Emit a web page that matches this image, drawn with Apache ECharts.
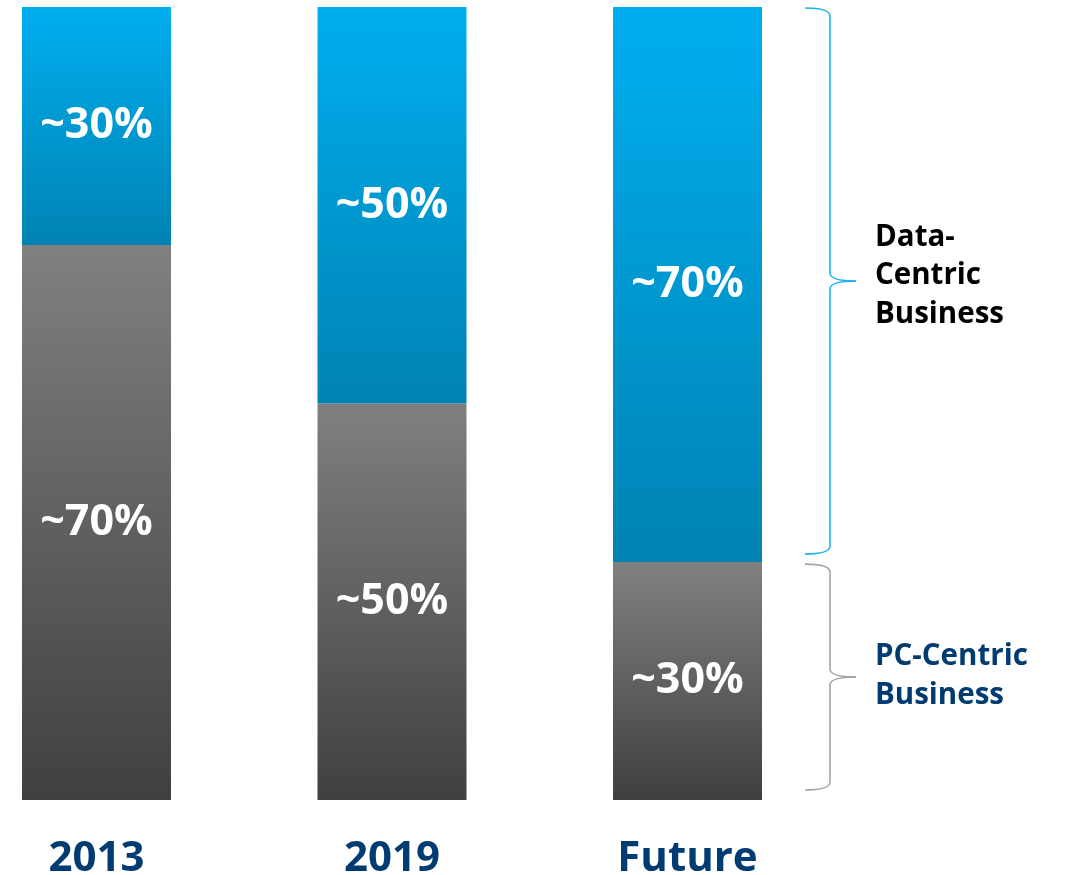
<!DOCTYPE html>
<html>
<head>
<meta charset="utf-8" />
<title>Data-Centric vs PC-Centric</title>
<script src="https://cdn.jsdelivr.net/npm/echarts@6/dist/echarts.min.js"></script>
<style>
  html, body { margin: 0; padding: 0; background: #fff; }
  #main { width: 1066px; height: 875px; }
</style>
</head>
<body>
<div id="main"></div>
<script>
// data
var years = ['2013', '2019', 'Future'];
var pcShare = [70, 50, 30];
var dataShare = [30, 50, 70];
var braceTexts = ['Data-\nCentric\nBusiness', 'PC-Centric\nBusiness'];

var navy = '#003C71';
var font = '"Open Sans", "Noto Sans", sans-serif';
var barW = 149;

var chart = echarts.init(document.getElementById('main'));

function grad(top, bottom) {
  return new echarts.graphic.LinearGradient(0, 0, 0, 1, [
    { offset: 0, color: top },
    { offset: 1, color: bottom }
  ]);
}

var segLabel = {
  show: true,
  position: 'inside',
  color: '#fff',
  fontFamily: font,
  fontWeight: 'bold',
  fontSize: 43,
  formatter: function (p) { return '~' + p.value[0] + '%'; }
};

// value first so the stack runs on the y dimension
function pairs(arr) {
  return arr.map(function (v, i) { return [v, i]; });
}

chart.setOption({
  animation: false,
  grid: { left: 96.5, right: 378.5, top: 7, bottom: 75, outerBoundsMode: 'none', containLabel: false },
  xAxis: {
    type: 'value',
    min: 0,
    max: 2,
    interval: 1,
    splitLine: { show: false },
    axisLine: { show: false },
    axisTick: { show: false },
    axisLabel: {
      margin: 38,
      color: navy,
      fontFamily: font,
      fontWeight: 'bold',
      fontSize: 42,
      showMinLabel: true,
      showMaxLabel: true,
      formatter: function (v) { return years[v] || ''; }
    }
  },
  yAxis: { type: 'value', min: 0, max: 100, show: false },
  series: [
    {
      name: 'PC-Centric',
      type: 'bar',
      stack: 'total',
      barWidth: barW,
      clip: false,
      encode: { x: 1, y: 0 },
      data: pairs(pcShare),
      itemStyle: { color: grad('#808080', '#404040') },
      label: segLabel
    },
    {
      name: 'Data-Centric',
      type: 'bar',
      stack: 'total',
      barWidth: barW,
      clip: false,
      encode: { x: 1, y: 0 },
      data: pairs(dataShare),
      itemStyle: { color: grad('#00AEEF', '#0083B3') },
      label: segLabel
    }
  ]
});

// brace made of lines and quadratic curves
function brace(x0, x1, x2, yTop, yBot, color) {
  var yMid = (yTop + yBot) / 2;
  var r = 8;
  var st = { stroke: color, lineWidth: 1.6, fill: null };
  return [
    { type: 'bezierCurve', shape: { x1: x0, y1: yTop, x2: x1, y2: yTop + r, cpx1: x1, cpy1: yTop }, style: st },
    { type: 'line', shape: { x1: x1, y1: yTop + r, x2: x1, y2: yMid - r }, style: st },
    { type: 'bezierCurve', shape: { x1: x1, y1: yMid - r, x2: x2, y2: yMid, cpx1: x1, cpy1: yMid }, style: st },
    { type: 'bezierCurve', shape: { x1: x2, y1: yMid, x2: x1, y2: yMid + r, cpx1: x1, cpy1: yMid }, style: st },
    { type: 'line', shape: { x1: x1, y1: yMid + r, x2: x1, y2: yBot - r }, style: st },
    { type: 'bezierCurve', shape: { x1: x1, y1: yBot - r, x2: x0, y2: yBot, cpx1: x1, cpy1: yBot }, style: st }
  ];
}

var last = years.length - 1;
var pBottom = chart.convertToPixel({ gridIndex: 0 }, [last, 0]);
var pSplit = chart.convertToPixel({ gridIndex: 0 }, [last, pcShare[last]]);
var pTop = chart.convertToPixel({ gridIndex: 0 }, [last, pcShare[last] + dataShare[last]]);
var barRight = pBottom[0] + barW / 2;
var x0 = barRight + 43, x1 = barRight + 68, x2 = barRight + 94;
var tx = barRight + 113;

var blueTop = pTop[1] + 1, blueBot = pSplit[1] - 8;
var grayTop = pSplit[1] + 2, grayBot = pBottom[1] - 10;

var elements = []
  .concat(brace(x0, x1, x2, blueTop, blueBot, '#1EB4EC'))
  .concat(brace(x0, x1, x2, grayTop, grayBot, '#A6A6A6'));

elements.push({
  type: 'text',
  x: tx,
  y: (blueTop + blueBot) / 2 - 5,
  style: {
    text: braceTexts[0], fill: '#000', font: 'bold 29.5px ' + font,
    lineHeight: 38.5, verticalAlign: 'middle', align: 'left'
  }
});
elements.push({
  type: 'text',
  x: tx,
  y: (grayTop + grayBot) / 2 - 1,
  style: {
    text: braceTexts[1], fill: navy, font: 'bold 29.5px ' + font,
    lineHeight: 38.5, verticalAlign: 'middle', align: 'left'
  }
});

chart.setOption({ graphic: elements });

window.onresize = chart.resize;
</script>
</body>
</html>
